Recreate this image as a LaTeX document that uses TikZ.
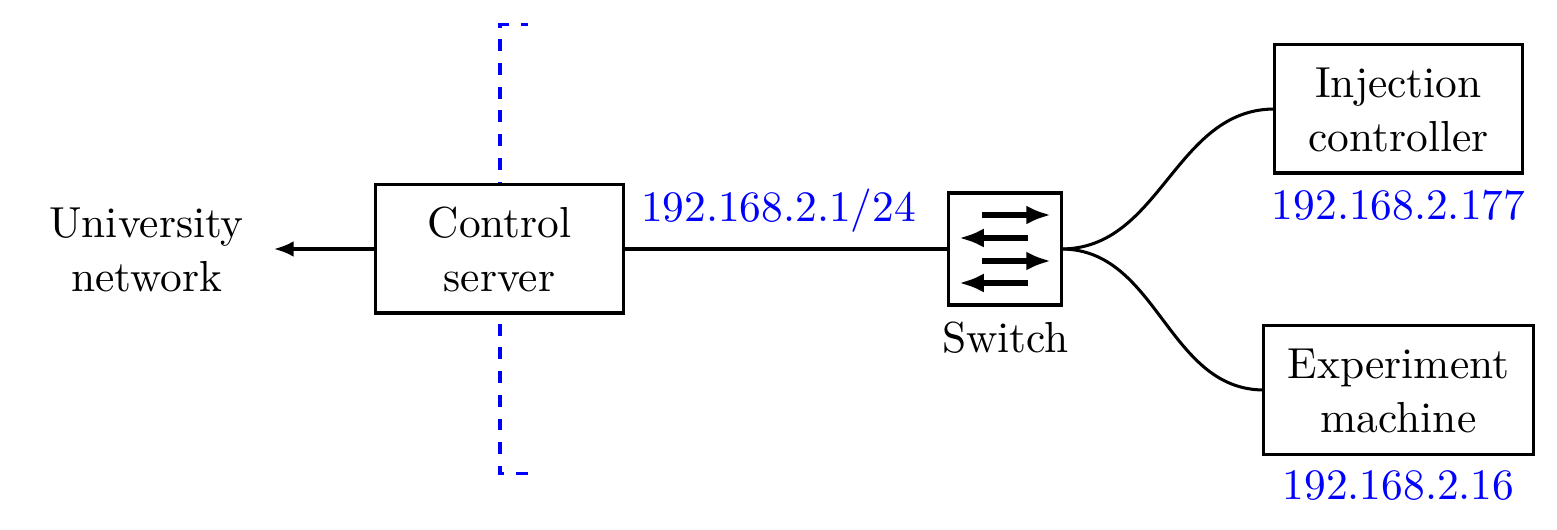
\documentclass[tikz,border=0pt]{standalone}
\usetikzlibrary{arrows.meta}
\newcommand{\topstrut}{\rule{0pt}{7.3pt}}
\tikzset{
  x=0.2304pt,y=-0.2304pt,
  every node/.style={inner sep=0pt,outer sep=0pt},
  txt/.style={align=center,font=\fontsize{10}{12.4}\selectfont},
  boxnode/.style={txt,draw=black,fill=white,line width=0.7pt,minimum height=29.5pt},
  iplabel/.style={txt,text=blue},
  wire/.style={draw=black,line width=0.7pt},
  sharrow/.style={line width=1.2pt,-{Latex[length=5.7pt,width=4.4pt]}},
  guide/.style={draw=blue,line width=0.8pt,dash pattern=on 2.73pt off 2.73pt}
}
\begin{document}
\begin{tikzpicture}
\useasboundingbox (0,0) rectangle (1557,530);
% dashed boundary
\coordinate (gb) at (528,473.5);
\coordinate (gbc) at (500,473.5);
\coordinate (gtc) at (500,24.5);
\coordinate (gt) at (528,24.5);
\draw[guide] (gb) -- (gbc) -- (gtc) -- (gt);
% boxes
\node[boxnode,minimum width=57.1pt] (ctrl) at (499.5,249) {\topstrut Control\\server};
\node[boxnode,minimum width=57.1pt] (inj) at (1398.5,109) {\topstrut Injection\\controller};
\node[boxnode,minimum width=62pt] (exp) at (1398.5,390) {\topstrut Experiment\\machine};
\node[draw=black,fill=white,line width=0.7pt,minimum width=25.9pt,minimum height=25.8pt] (sw) at (1005,249) {};
% labels
\node[txt] (uni) at (146.5,250) {University\\network};
\node[txt] (swl) at (1005.5,338) {Switch};
\node[iplabel] (ip1) at (778.5,211) {192.168.2.1/24};
\node[iplabel] (ip2) at (1398.5,205) {192.168.2.177};
\node[iplabel] (ip3) at (1398.5,486) {192.168.2.16};
% connectors
\coordinate (tip) at (274,249);
\draw[wire,-{Latex[length=4.5pt,width=3.6pt]}] (ctrl.west) -- (tip);
\draw[wire] (ctrl.east) -- (sw.west);
\draw[wire] (sw.east) to[out=0,in=180] (inj.west);
\draw[wire] (sw.east) to[out=0,in=180] (exp.west);
% switch arrows
\coordinate (a1s) at (982,215); \coordinate (a1e) at (1051,215);
\coordinate (a2s) at (1028,238); \coordinate (a2e) at (959,238);
\coordinate (a3s) at (982,261); \coordinate (a3e) at (1051,261);
\coordinate (a4s) at (1028,283); \coordinate (a4e) at (959,283);
\draw[sharrow] (a1s) -- (a1e);
\draw[sharrow] (a2s) -- (a2e);
\draw[sharrow] (a3s) -- (a3e);
\draw[sharrow] (a4s) -- (a4e);
\end{tikzpicture}
\end{document}
